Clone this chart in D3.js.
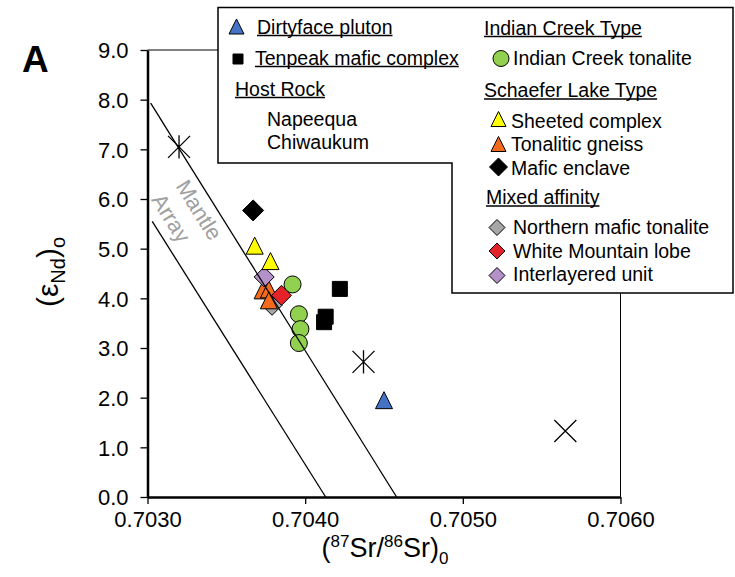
<!DOCTYPE html>
<html><head><meta charset="utf-8">
<script src="https://cdn.jsdelivr.net/npm/d3@7"></script>
<style>
html,body{margin:0;padding:0;background:#fff;}
svg{display:block;font-family:"Liberation Sans",Arial,sans-serif;}
</style></head>
<body><svg id="c" width="735" height="577"></svg>
<script>
// ---- data ----
const xTicks = [0.7030, 0.7040, 0.7050, 0.7060];
const yTicks = [0,1,2,3,4,5,6,7,8,9];
const dirtyface   = [[0.70450,1.95]];
const tenpeak     = [[0.70422,4.19],[0.70413,3.63],[0.70412,3.52]];
const napeequa    = [[0.70320,7.05],[0.70437,2.72]];
const chiwaukum   = [[0.70565,1.33]];
const indianCreek = [[0.70392,4.28],[0.70396,3.68],[0.70397,3.38],[0.70396,3.10]];
const sheeted     = [[0.70368,5.06],[0.70378,4.75]];
const tonalitic   = [[0.70373,4.16],[0.70377,4.18],[0.70377,3.96]];
const maficEncl   = [[0.70367,5.77]];
const northern    = [[0.70379,3.86]];
const whiteMtn    = [[0.70385,4.06]];
const interlayer  = [[0.70374,4.43]];
const mantleUpper = [[0.70302,7.93],[0.70458,0]];
const mantleLower = [[0.70303,5.55],[0.70413,0]];

const svg = d3.select("#c");
const x = d3.scaleLinear().domain([0.7030,0.7060]).range([147.5,620.5]);
const y = d3.scaleLinear().domain([0,9]).range([497,50]);

// marker path generator (centered at 0,0)
function shape(type, s){
  const p = d3.path(), h=s/2;
  if(type==="tri"){ p.moveTo(0,-h); p.lineTo(h,h); p.lineTo(-h,h); p.closePath(); }
  else if(type==="sq"){ p.rect(-h,-h,s,s); }
  else if(type==="dia"){ p.moveTo(0,-h); p.lineTo(h,0); p.lineTo(0,h); p.lineTo(-h,0); p.closePath(); }
  else if(type==="circ"){ p.arc(0,0,h,0,2*Math.PI); }
  else if(type==="x"){ p.moveTo(-h,-h); p.lineTo(h,h); p.moveTo(h,-h); p.lineTo(-h,h); }
  else if(type==="ast"){ p.moveTo(-h,-h); p.lineTo(h,h); p.moveTo(h,-h); p.lineTo(-h,h); p.moveTo(0,-h*1.05); p.lineTo(0,h*1.05); }
  return p.toString();
}

// frame (thin top/right)
svg.append("line").attr("x1",x(0.7030)).attr("x2",x(0.7060)).attr("y1",y(9)).attr("y2",y(9)).attr("stroke","#000").attr("stroke-width",1);
svg.append("line").attr("x1",x(0.7060)).attr("x2",x(0.7060)).attr("y1",y(9)).attr("y2",y(0)).attr("stroke","#000").attr("stroke-width",1);

const plot = svg.append("g");
function series(data, type, size, fill, stroke, sw){
  plot.selectAll(null).data(data).enter().append("path")
    .attr("transform", d=>`translate(${x(d[0])},${y(d[1])})`)
    .attr("d", shape(type,size))
    .attr("fill", fill).attr("stroke", stroke).attr("stroke-width", sw);
}
series(northern,   "dia", 20, "#a6a6a6", "#000", 1);
series(tonalitic,  "tri", 17, "#f36a1d", "#000", 1);
series(interlayer, "dia", 20, "#b491c8", "#000", 1);
series(whiteMtn,   "dia", 20, "#e3222a", "#000", 1);
series(sheeted,    "tri", 17, "#ffff00", "#000", 1);
series(maficEncl,  "dia", 21, "#000", "#000", 1);
series(indianCreek,"circ",17, "#92d050", "#000", 1);
series(tenpeak,    "sq",  15, "#000", "#000", 1);
series(dirtyface,  "tri", 17, "#4472c4", "#000", 1);
series(napeequa,   "ast", 22, "none", "#000", 1.3);
series(chiwaukum,  "x",   22, "none", "#000", 1.3);

// mantle array lines
const line = d3.line().x(d=>x(d[0])).y(d=>y(d[1]));
[mantleUpper, mantleLower].forEach(m=>{
  svg.append("path").attr("d", line(m)).attr("fill","none").attr("stroke","#000").attr("stroke-width",1.3);
});
const ang = Math.atan2(y(0)-y(7.93), x(0.70458)-x(0.70302))*180/Math.PI;
svg.append("text").attr("transform",`translate(199,210) rotate(${ang})`)
  .attr("text-anchor","middle").attr("dominant-baseline","central")
  .attr("font-size",22).attr("fill","#a0a0a0").text("Mantle");
svg.append("text").attr("transform",`translate(171,218) rotate(${ang})`)
  .attr("text-anchor","middle").attr("dominant-baseline","central")
  .attr("font-size",22).attr("fill","#a0a0a0").text("Array");

// axes
const yAxis = svg.append("g").attr("transform",`translate(${x(0.7030)},0)`)
  .call(d3.axisLeft(y).tickValues(yTicks).tickFormat(d3.format(".1f")).tickSize(7).tickSizeOuter(0));
const xAxis = svg.append("g").attr("transform",`translate(0,${y(0)})`)
  .call(d3.axisBottom(x).tickValues(xTicks).tickFormat(d3.format(".4f")).tickSize(7).tickSizeOuter(0));
[yAxis,xAxis].forEach(a=>{
  a.select(".domain").attr("stroke","#000").attr("stroke-width",2.5);
  a.selectAll(".tick line").attr("stroke","#000").attr("stroke-width",1.3);
  a.selectAll(".tick text").attr("font-size",22).attr("fill","#000")
   .attr("font-family","Liberation Sans, Arial, sans-serif");
});
yAxis.selectAll(".tick text").attr("x",-19).attr("dy","0.36em");
xAxis.selectAll(".tick text").attr("y",14);

// axis titles
const yl = svg.append("text").attr("transform","translate(58,272) rotate(-90)")
  .attr("text-anchor","middle").attr("font-size",30).attr("fill","#000");
yl.append("tspan").text("(ε");
yl.append("tspan").attr("font-size",20).attr("dy",7).text("Nd");
yl.append("tspan").attr("dy",-7).text(")");
yl.append("tspan").attr("font-size",20).attr("dy",7).text("o");

const xl = svg.append("text").attr("x",385).attr("y",557)
  .attr("text-anchor","middle").attr("font-size",27).attr("fill","#000");
xl.append("tspan").text("(");
xl.append("tspan").attr("font-size",17).attr("dy",-10).text("87");
xl.append("tspan").attr("dy",10).text("Sr/");
xl.append("tspan").attr("font-size",17).attr("dy",-10).text("86");
xl.append("tspan").attr("dy",10).text("Sr)");
xl.append("tspan").attr("font-size",17).attr("dy",7).text("0");

svg.append("text").attr("x",22).attr("y",72).attr("font-size",37).attr("font-weight","bold").text("A");

// legend
const lg = svg.append("g");
lg.append("path").attr("d","M218,7.5H733V293H452V163H218Z").attr("fill","#fff").attr("stroke","#000").attr("stroke-width",1.5);
const items = [
  {t:"Dirtyface pluton", x:257, y:33.5, u:true, m:["tri",15,"#4472c4"], mx:236.5, my:26.5},
  {t:"Tenpeak mafic complex", x:255, y:64.5, u:true, m:["sq",10,"#000"], mx:238, my:59},
  {t:"Host Rock", x:235, y:95.5, u:true},
  {t:"Napeequa", x:267, y:126},
  {t:"Chiwaukum", x:267, y:149},
  {t:"Indian Creek Type", x:484, y:34.5, u:true},
  {t:"Indian Creek tonalite", x:513, y:65, m:["circ",16,"#92d050"], mx:501, my:58.5},
  {t:"Schaefer Lake Type", x:484, y:97, u:true},
  {t:"Sheeted complex", x:511, y:127.5, m:["tri",15,"#ffff00"], mx:498.5, my:119},
  {t:"Tonalitic gneiss", x:511, y:151, m:["tri",15,"#f36a1d"], mx:498.5, my:144},
  {t:"Mafic enclave", x:511, y:174.5, m:["dia",18,"#000"], mx:498.5, my:167},
  {t:"Mixed affinity", x:486, y:204, u:true},
  {t:"Northern mafic tonalite", x:513, y:233.5, m:["dia",16,"#a6a6a6"], mx:497, my:227.5},
  {t:"White Mountain lobe", x:513, y:257.5, m:["dia",16,"#e3222a"], mx:497, my:251},
  {t:"Interlayered unit", x:513, y:281, m:["dia",16,"#b491c8"], mx:497, my:275.5}
];
items.forEach(it=>{
  const tx = lg.append("text").attr("x",it.x).attr("y",it.y).attr("font-size",19.5).attr("fill","#000").text(it.t);
  if(it.u){
    const w = tx.node().getComputedTextLength();
    lg.append("line").attr("x1",it.x).attr("x2",it.x+w).attr("y1",it.y+2).attr("y2",it.y+2).attr("stroke","#000").attr("stroke-width",1.3);
  }
  if(it.m){
    lg.append("path").attr("transform",`translate(${it.mx},${it.my})`).attr("d",shape(it.m[0],it.m[1]))
      .attr("fill",it.m[2]).attr("stroke","#000").attr("stroke-width",1);
  }
});
</script></body></html>
